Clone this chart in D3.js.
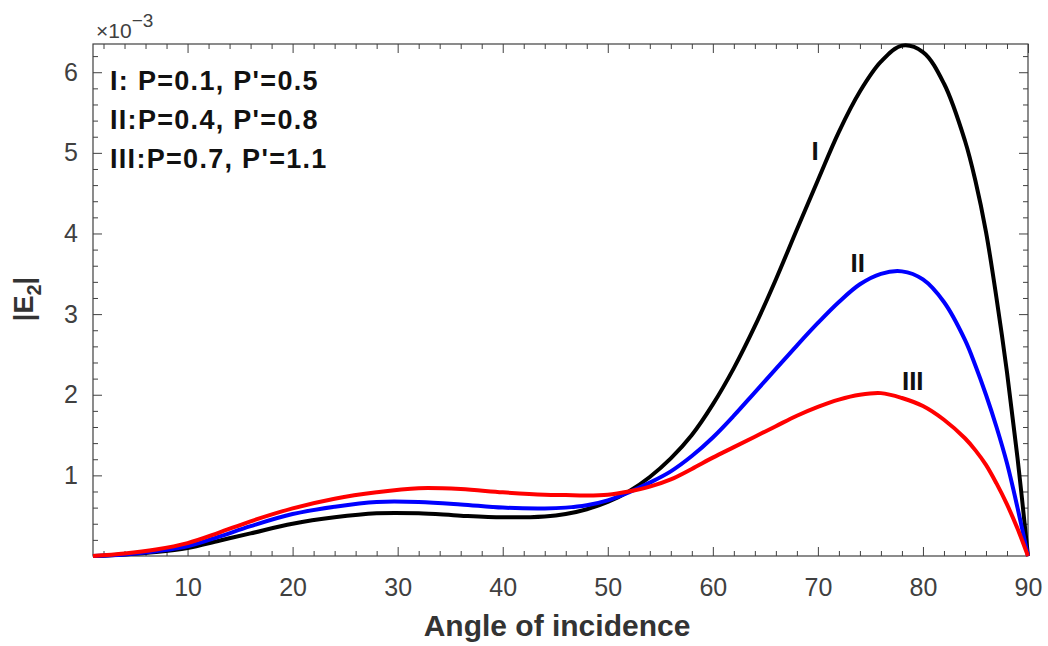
<!DOCTYPE html>
<html lang="en">
<head>
  <meta charset="UTF-8">
  <title>|E2| vs angle of incidence</title>
  <script src="https://d3js.org/d3.v7.min.js"></script>
  <style>
    body { margin: 0; background: #fff; }
    svg { font-family: "Liberation Sans", Arial, sans-serif; }
    .tick text { fill: #404040; font-size: 25px; }
    .tick line { stroke: #404040; }
    .curve { fill: none; stroke-width: 4; stroke-linejoin: round; }
    .legend { font-size: 27px; font-weight: bold; fill: #111; letter-spacing: 1.3px; }
    .curve-label { font-size: 26px; font-weight: bold; fill: #111; }
    .axis-title { font-size: 30px; font-weight: bold; fill: #333; }
  </style>
</head>
<body>
  <svg width="1048" height="646"></svg>

  <script>
    // angle of incidence (deg); |E2| values in units of 1e-3
    const angles = [1, 4, 7, 10, 13, 16, 20, 24, 28, 32, 36, 40, 44, 46, 48, 50, 52, 54, 56, 58, 60, 62, 64, 66, 68, 70, 72, 74, 76, 78, 80, 82, 84, 85, 86, 87, 88, 89, 90];
    const seriesI = [0, 0.02, 0.05, 0.10, 0.19, 0.28, 0.40, 0.48, 0.53, 0.53, 0.50, 0.48, 0.49, 0.52, 0.58, 0.67, 0.80, 0.98, 1.21, 1.50, 1.88, 2.33, 2.85, 3.43, 4.05, 4.66, 5.26, 5.76, 6.13, 6.33, 6.25, 5.86, 5.15, 4.65, 4.02, 3.20, 2.28, 1.22, 0];
    const seriesII = [0, 0.02, 0.06, 0.12, 0.24, 0.37, 0.52, 0.61, 0.67, 0.67, 0.64, 0.60, 0.59, 0.60, 0.63, 0.69, 0.79, 0.91, 1.05, 1.24, 1.47, 1.74, 2.03, 2.32, 2.61, 2.89, 3.15, 3.37, 3.50, 3.53, 3.43, 3.15, 2.68, 2.36, 2.00, 1.60, 1.15, 0.60, 0];
    const seriesIII = [0, 0.03, 0.08, 0.16, 0.29, 0.43, 0.59, 0.71, 0.79, 0.84, 0.83, 0.79, 0.76, 0.755, 0.75, 0.76, 0.80, 0.86, 0.95, 1.08, 1.22, 1.35, 1.48, 1.61, 1.74, 1.85, 1.94, 2.00, 2.02, 1.96, 1.86, 1.69, 1.46, 1.31, 1.13, 0.90, 0.64, 0.34, 0];

    const xTicks = [10, 20, 30, 40, 50, 60, 70, 80, 90];
    const yTicks = [1, 2, 3, 4, 5, 6];

    const legendLines = ["I: P=0.1, P'=0.5", "II:P=0.4, P'=0.8", "III:P=0.7, P'=1.1"];
    const curveNames = ["I", "II", "III"];
    const curveColors = ["#000000", "#0000ff", "#ff0000"];
    const labelPos = [[69.4, 4.91], [73.1, 3.52], [78.0, 2.06]];

    const svg = d3.select("svg");
    const margin = { top: 44, right: 20, bottom: 90, left: 93 };
    const width = +svg.attr("width") - margin.left - margin.right;
    const height = +svg.attr("height") - margin.top - margin.bottom;
    const g = svg.append("g").attr("transform", `translate(${margin.left},${margin.top})`);

    const x = d3.scaleLinear().domain([1, 90]).range([0, width]);
    const y = d3.scaleLinear().domain([0, 6.35]).range([height, 0]);

    const xMinor = d3.range(2, 90, 2).filter(v => v % 10 !== 0);
    const yMinor = d3.range(0.2, 6.3, 0.2).filter(v => Math.abs(v - Math.round(v)) > 0.01);

    // minor ticks on all four sides
    const minorAxes = [
      [d3.axisBottom(x), `translate(0,${height})`, xMinor],
      [d3.axisTop(x), "translate(0,0)", xMinor],
      [d3.axisLeft(y), "translate(0,0)", yMinor],
      [d3.axisRight(y), `translate(${width},0)`, yMinor]
    ];
    minorAxes.forEach(([ax, tr, vals]) => {
      g.append("g").attr("transform", tr)
        .call(ax.tickValues(vals).tickSize(-5).tickFormat(""))
        .call(s => s.select(".domain").remove());
    });

    // major ticks
    g.append("g").attr("transform", `translate(0,${height})`)
      .call(d3.axisBottom(x).tickValues(xTicks).tickSize(-9).tickPadding(22))
      .call(s => s.select(".domain").remove());
    g.append("g")
      .call(d3.axisTop(x).tickValues(xTicks).tickSize(-9).tickFormat(""))
      .call(s => s.select(".domain").remove());
    g.append("g")
      .call(d3.axisLeft(y).tickValues(yTicks).tickSize(-9).tickPadding(15).tickFormat(d3.format("d")))
      .call(s => s.select(".domain").remove());
    g.append("g").attr("transform", `translate(${width},0)`)
      .call(d3.axisRight(y).tickValues(yTicks).tickSize(-9).tickFormat(""))
      .call(s => s.select(".domain").remove());

    // frame
    g.append("rect")
      .attr("width", width).attr("height", height)
      .attr("fill", "none").attr("stroke", "#404040").attr("stroke-width", 1.2);

    // curves
    const series = [seriesI, seriesII, seriesIII].map(vals => angles.map((a, i) => [a, vals[i]]));
    const line = d3.line()
      .x(d => x(d[0]))
      .y(d => y(d[1]))
      .curve(d3.curveCatmullRom.alpha(0.5));

    g.selectAll(".curve")
      .data(series)
      .join("path")
      .attr("class", "curve")
      .attr("stroke", (d, i) => curveColors[i])
      .attr("d", line);

    // curve labels
    g.selectAll(".curve-label")
      .data(curveNames)
      .join("text")
      .attr("class", "curve-label")
      .attr("x", (d, i) => x(labelPos[i][0]))
      .attr("y", (d, i) => y(labelPos[i][1]))
      .text(d => d);

    // legend text
    g.selectAll(".legend")
      .data(legendLines)
      .join("text")
      .attr("class", "legend")
      .attr("x", 17)
      .attr("y", (d, i) => 46 + i * 39)
      .text(d => d);

    // exponent label
    const expo = svg.append("text")
      .attr("x", 96).attr("y", 38)
      .attr("fill", "#404040")
      .style("font-size", "21px");
    expo.append("tspan").text("\u00d710");
    expo.append("tspan").attr("dy", -11).style("font-size", "19px").text("\u22123");

    // axis titles
    svg.append("text")
      .attr("class", "axis-title")
      .attr("x", 557)
      .attr("y", 636)
      .attr("text-anchor", "middle")
      .text("Angle of incidence");

    const yt = svg.append("text")
      .attr("class", "axis-title")
      .style("font-size", "27px")
      .attr("transform", "translate(33,299) rotate(-90)")
      .attr("text-anchor", "middle");
    yt.append("tspan").text("|E");
    yt.append("tspan").attr("dy", 8).style("font-size", "20px").text("2");
    yt.append("tspan").attr("dy", -8).text("|");
  </script>
</body>
</html>
